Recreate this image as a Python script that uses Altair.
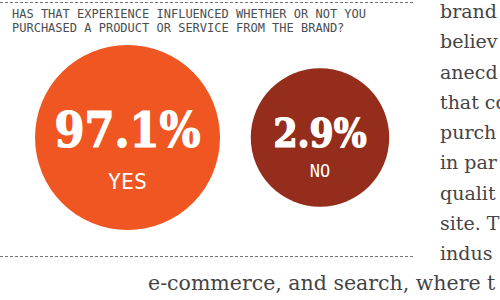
import altair as alt
import pandas as pd

# ---- data ----
answers = ["YES", "NO"]
shares = [97.1, 2.9]
circle_colors = ["#EF5621", "#952D1C"]

title_lines = [
    "HAS THAT EXPERIENCE INFLUENCED WHETHER OR NOT YOU",
    "PURCHASED A PRODUCT OR SERVICE FROM THE BRAND?",
]
body_lines = ["brand", "believ", "anecd", "that co", "purch", "in par", "qualit", "site. T", "indus"]
footer_line = "e-commerce, and search, where t"

df = pd.DataFrame({"answer": answers, "share": shares})
df_title = pd.DataFrame({"row": list(range(len(title_lines))), "line": title_lines})
df_body = pd.DataFrame({"row": list(range(len(body_lines))), "line": body_lines})
df_footer = pd.DataFrame({"line": [footer_line]})
df_one = pd.DataFrame({"k": [0]})

x_scale = alt.Scale(domain=answers, range=[127.5, 320], padding=0)
x_enc = alt.X("answer:N", scale=x_scale, axis=None)

circles = alt.Chart(df).mark_circle(opacity=1).encode(
    x=x_enc,
    y=alt.value(137.5),
    size=alt.Size("share:Q", scale=alt.Scale(domain=[2.9, 97.1], range=[19182, 34225], zero=False), legend=None),
    color=alt.Color("answer:N", scale=alt.Scale(domain=answers, range=circle_colors), legend=None),
)

numbers = alt.Chart(df).transform_calculate(
    label="format(datum.share, '.1f') + '%'"
).mark_text(
    font="DejaVu Serif Condensed, DejaVu Serif",
    fontWeight="bold",
    color="white",
    stroke="white",
    strokeWidth=1.2,
    align="center",
    baseline="alphabetic",
).encode(
    x=x_enc,
    y=alt.value(147),
    text="label:N",
    size=alt.Size("share:Q", scale=alt.Scale(domain=[2.9, 97.1], range=[38.5, 48], zero=False), legend=None),
)

labels = alt.Chart(df).mark_text(
    font="DejaVu Sans Mono",
    color="white",
    align="center",
    baseline="alphabetic",
).encode(
    x=x_enc,
    y=alt.Y("answer:N", scale=alt.Scale(domain=answers, range=[188.5, 176.5], padding=0), axis=None),
    text="answer:N",
    size=alt.Size("share:Q", scale=alt.Scale(domain=[2.9, 97.1], range=[17, 21.5], zero=False), legend=None),
)

title = alt.Chart(df_title).mark_text(
    font="DejaVu Sans Mono",
    fontSize=12,
    color="#4a4e53",
    align="left",
    baseline="alphabetic",
).encode(
    x=alt.value(12),
    y=alt.Y("row:Q", scale=alt.Scale(domain=[0, 1], range=[18, 32], nice=False, zero=False), axis=None),
    text="line:N",
)

body = alt.Chart(df_body).mark_text(
    font="DejaVu Serif",
    fontSize=19,
    color="#444444",
    align="left",
    baseline="alphabetic",
).encode(
    x=alt.value(440),
    y=alt.Y("row:Q", scale=alt.Scale(domain=[0, 8], range=[18, 260], nice=False, zero=False), axis=None),
    text="line:N",
)

footer = alt.Chart(df_footer).mark_text(
    font="DejaVu Serif",
    fontSize=20.5,
    color="#444444",
    align="left",
    baseline="alphabetic",
).encode(
    x=alt.value(148),
    y=alt.value(290),
    text="line:N",
)

rule_top = alt.Chart(df_one).mark_rule(color="#777777", strokeWidth=1, strokeDash=[3, 2]).encode(
    x=alt.value(0), x2=alt.value(415), y=alt.value(2.5)
)
rule_bottom = alt.Chart(df_one).mark_rule(color="#777777", strokeWidth=1, strokeDash=[3, 2]).encode(
    x=alt.value(0), x2=alt.value(415), y=alt.value(256.5)
)

chart = alt.layer(
    rule_top, rule_bottom, circles, numbers, labels, title, body, footer
).resolve_scale(
    x="independent", y="independent", size="independent", color="independent"
).properties(
    width=500, height=300, padding=0, autosize="none", background="white"
).configure_view(stroke=None)

chart.save("out.html", embed_options={"renderer": "svg", "actions": False})
